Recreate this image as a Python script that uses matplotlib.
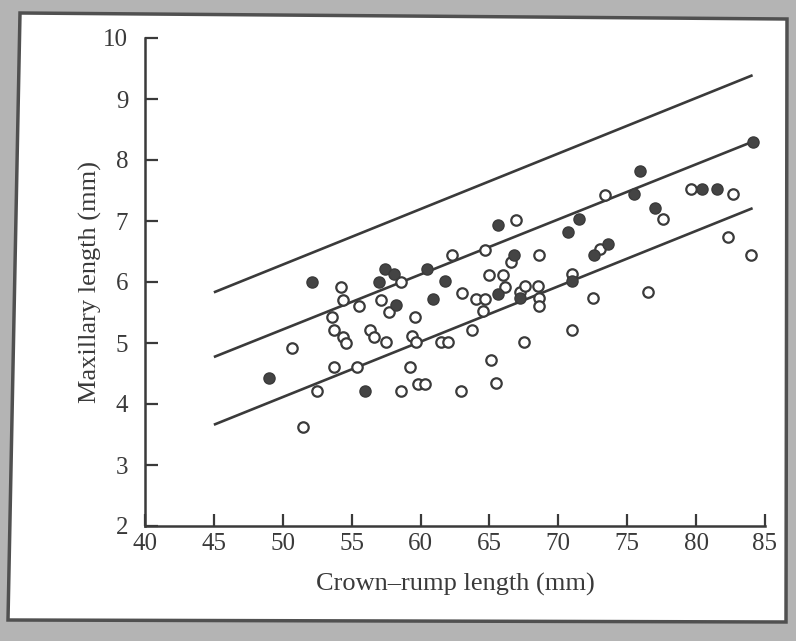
import matplotlib
matplotlib.use('Agg')
import matplotlib.pyplot as plt
from matplotlib.patches import Polygon

# Crown-rump length (mm) vs maxillary length (mm)
solid_x = [49.0, 52.1, 56.0, 57.0, 57.4, 58.1, 58.2, 60.5, 60.9, 61.8, 65.6, 65.6, 66.8,
           67.2, 70.7, 71.5, 71.0, 72.6, 73.6, 75.5, 75.9, 77.0, 80.4, 81.5, 84.1]
solid_y = [4.43, 6.00, 4.21, 6.00, 6.22, 6.13, 5.62, 6.22, 5.72, 6.02, 6.93, 5.81, 6.44,
           5.73, 6.82, 7.04, 6.02, 6.44, 6.63, 7.44, 7.82, 7.22, 7.52, 7.52, 8.30]

open_x = [50.7, 51.5, 52.5, 53.7, 53.6, 53.7, 54.2, 54.4, 54.4, 54.6, 55.5, 55.4, 56.3,
          56.6, 57.1, 57.5, 57.7, 58.6, 58.6, 59.2, 59.6, 59.4, 59.7, 59.8, 60.3, 61.5,
          62.0, 62.3, 63.0, 62.9, 63.7, 64.0, 64.7, 64.5, 64.7, 65.0, 65.1, 65.5, 66.0,
          66.1, 66.6, 66.9, 67.2, 67.6, 67.5, 68.5, 68.6, 68.6, 68.6, 71.0, 71.0, 72.5,
          73.0, 73.4, 76.5, 77.6, 79.6, 82.7, 82.3, 84.0]
open_y = [4.92, 3.63, 4.21, 4.61, 5.42, 5.21, 5.92, 5.70, 5.10, 5.00, 5.61, 4.61, 5.22,
          5.10, 5.70, 5.01, 5.51, 6.00, 4.21, 4.61, 5.43, 5.12, 5.02, 4.33, 4.33, 5.01,
          5.01, 6.44, 5.82, 4.22, 5.22, 5.72, 5.72, 5.52, 6.52, 6.11, 4.72, 4.34, 6.11,
          5.92, 6.33, 7.02, 5.84, 5.93, 5.01, 5.93, 5.73, 5.61, 6.44, 6.13, 5.22, 5.73,
          6.54, 7.43, 5.83, 7.03, 7.52, 7.44, 6.73, 6.44]

# regression line and upper/lower limits
line_x = [45, 84.1]
upper_y = [5.83, 9.39]
middle_y = [4.77, 8.30]
lower_y = [3.66, 7.21]

x_ticks = [40, 45, 50, 55, 60, 65, 70, 75, 80, 85]
y_ticks = [2, 3, 4, 5, 6, 7, 8, 9, 10]

ink = '#3a3a3a'
W, H = 796, 641

plt.rcParams['font.family'] = ['Liberation Serif', 'DejaVu Serif']

fig = plt.figure(figsize=(W / 100, H / 100), dpi=100, facecolor='#b4b4b4')

# page border
def px(x, y):
    return (x / W, 1 - y / H)

page = Polygon([px(20, 13), px(787, 19), px(786, 622), px(8, 620)], closed=True,
               transform=fig.transFigure, facecolor='white', edgecolor='#505050',
               linewidth=2.5, zorder=-10)
fig.patches.append(page)

ax = fig.add_axes([145 / W, 1 - 526 / H, 620 / W, 488 / H])
ax.set_facecolor('none')
ax.set_zorder(5)

for ly in (upper_y, middle_y, lower_y):
    ax.plot(line_x, ly, color=ink, linewidth=1.9, solid_capstyle='butt')

ax.plot(open_x, open_y, 'o', markersize=7.5, markerfacecolor='white',
        markeredgecolor=ink, markeredgewidth=1.6, linestyle='none')
ax.plot(solid_x, solid_y, 'o', markersize=8, markerfacecolor='#444444',
        markeredgecolor=ink, markeredgewidth=1, linestyle='none')

ax.set_xlim(40, 85)
ax.set_ylim(2, 10)
ax.set_xticks(x_ticks)
ax.set_yticks(y_ticks)
ax.set_xticklabels([str(t) for t in x_ticks])
ax.set_yticklabels([str(t) for t in y_ticks])

for side in ('top', 'right'):
    ax.spines[side].set_visible(False)
for side in ('left', 'bottom'):
    ax.spines[side].set_color(ink)
    ax.spines[side].set_linewidth(1.8)

ax.tick_params(axis='both', direction='in', length=9, width=1.6, color=ink,
               labelcolor=ink, labelsize=18)
ax.tick_params(axis='y', pad=12)
ax.tick_params(axis='x', pad=5)

ax.set_xlabel('Crown\u2013rump length (mm)', fontsize=19, color=ink, labelpad=13)
ax.set_ylabel('Maxillary length (mm)', fontsize=19, color=ink, labelpad=1)

fig.savefig('out.png', dpi=100, facecolor=fig.get_facecolor())
